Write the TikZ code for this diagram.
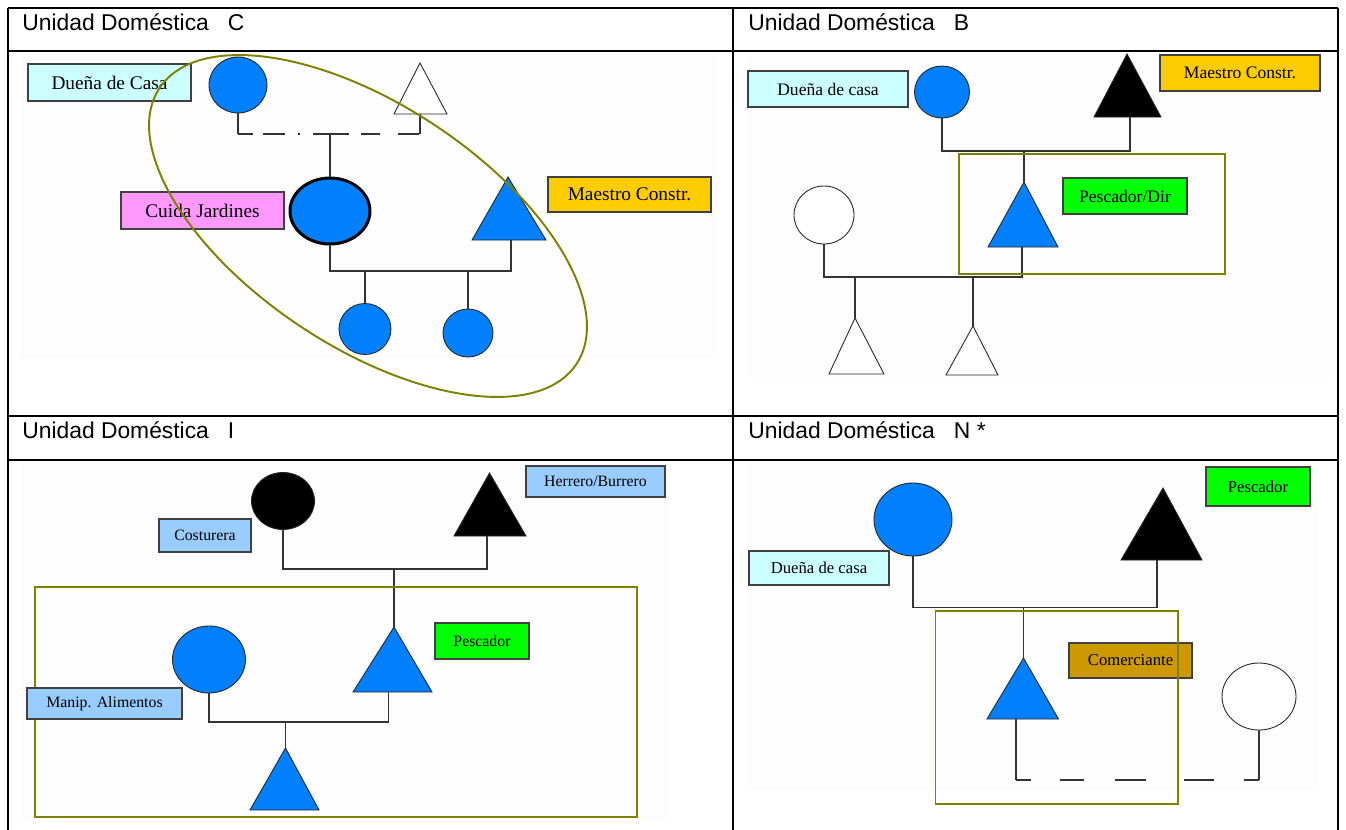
\documentclass[tikz,border=0pt]{standalone}
\usepackage{fontspec}
\setmainfont{Liberation Serif}
\newfontfamily\hdrfont{Liberation Sans}
\usetikzlibrary{shapes.geometric}

\newcommand{\px}{0.02cm}

\definecolor{casacyan}{RGB}{204,255,255}
\definecolor{jardinpink}{RGB}{255,153,255}
\definecolor{constrgold}{RGB}{255,204,0}
\definecolor{pescagreen}{RGB}{0,255,0}
\definecolor{oficioblue}{RGB}{153,204,255}
\definecolor{comerbrown}{RGB}{204,153,0}
\definecolor{persblue}{RGB}{0,128,255}
\definecolor{grupolive}{RGB}{128,128,0}

\tikzset{
    kin/.style={black!80, line width=0.6pt},
    grupo/.style={draw=grupolive, line width=1.1pt},
    lbl/.style={draw=black!75, line width=0.7pt, inner sep=0pt, font=\fontsize{#1}{#1}\selectfont},
    sz/.style 2 args={minimum width=#1*\px, minimum height=#2*\px},
    pers/.style={ellipse, draw=black!85, line width=0.5pt, inner sep=0pt},
    tri/.style={draw=black!85, line width=0.5pt},
    tabla/.style={line width=1.2pt},
    hdr/.style={anchor=base west, inner sep=0pt, font=\hdrfont\fontsize{13}{15}\selectfont},
}

\begin{document}
\begin{tikzpicture}[x=0.02cm, y=-0.02cm]
        \useasboundingbox (0,0) rectangle (1346,829);

        % Fondos
        \fill[black!0.8] (21,52) rectangle (716,358);
        \fill[black!0.8] (748,53) rectangle (1333,377);
        \fill[black!0.8] (21,463) rectangle (668,820);
        \fill[black!0.8] (748,463) rectangle (1318,790);

        % Tabla
        \draw[tabla] (8,8) -- (1338,8);
        \draw[tabla] (8,51) -- (1338,51);
        \draw[tabla] (8,416) -- (1338,416);
        \draw[tabla] (8,460) -- (1338,460);
        \draw[tabla] (8,8) -- (8,835);
        \draw[tabla] (733,8) -- (733,835);
        \draw[tabla] (1338,8) -- (1338,835);

        \node[hdr] (hC) at (22,30) {Unidad Doméstica\ \ \ C};
        \node[hdr] (hB) at (748,30) {Unidad Doméstica\ \ \ B};
        \node[hdr] (hI) at (22,438) {Unidad Doméstica\ \ \ I};
        \node[hdr] (hN) at (748,438) {Unidad Doméstica\ \ \ N *};

        % ---------------- Unidad C ----------------
        \node[lbl=11, sz={163}{37}, fill=casacyan] (cL1) at (109.5,82.5) {Dueña de Casa};
        \node[lbl=11, sz={163}{37}, fill=jardinpink] (cL2) at (202.5,210.5) {Cuida Jardines};
        \node[lbl=11, sz={163}{35}, fill=constrgold] (cL3) at (629.5,194.5) {Maestro Constr.};

        \node[pers, sz={58}{56}, fill=persblue] (cM) at (238,85) {};
        \draw[tri, fill=white] (420,63) coordinate (cF) -- (447,114) -- (394,114) -- cycle;
        \coordinate (cFb) at (420,114);

        \node[pers, sz={80}{66}, fill=persblue, line width=1.7pt, draw=black] (cJ) at (330,211) {};
        \draw[tri, fill=persblue] (508,177) coordinate (cT) -- (546,240) -- (472,240) -- cycle;
        \coordinate (cTb) at (511,240);

        \node[pers, sz={52}{51}, fill=persblue] (cS1) at (365,329) {};
        \node[pers, sz={50}{48}, fill=persblue] (cS2) at (468,333) {};

        \coordinate (cML) at (238,134);
        \coordinate (cMR) at (420,134);
        \coordinate (cMid) at (330,134);
        \coordinate (cH) at (511,271);
        \coordinate (cK1) at (365,271);
        \coordinate (cK2) at (468,271);

        \draw[kin] (cM.south) -- (cML);
        \draw[kin, dash pattern=on 8.5pt off 5.7pt on 12.5pt off 7.4pt on 1.1pt off 7.4pt on 20.4pt off 6.8pt on 11.3pt off 10.2pt on 11.9pt off 20pt] (cML) -- (cMR);
        \draw[kin] (cMR) -- (cFb);
        \draw[kin] (cMid) -- (cJ.north);
        \draw[kin] (cJ.south) |- (cH) -- (cTb);
        \draw[kin] (cK1) -- (cS1.north);
        \draw[kin] (cK2) -- (cS2.north);

        % grupo
        \draw[grupo, rotate around={-33.5:(368,226)}] (368,226) ellipse [x radius=250, y radius=121];

        % ---------------- Unidad B ----------------
        \node[lbl=10, sz={160}{36}, fill=casacyan] (bL1) at (828,89) {Dueña de casa};
        \node[lbl=10, sz={160}{36}, fill=constrgold] (bL2) at (1240,73) {Maestro Constr.};
        \node[lbl=10, sz={124}{36}, fill=pescagreen] (bL3) at (1125,196) {Pescador/Dir};

        \node[pers, sz={55}{52}, fill=persblue] (bM) at (942,92) {};
        \draw[tri, fill=black] (1127,54) coordinate (bF) -- (1161,117) -- (1094,117) -- cycle;
        \coordinate (bFb) at (1130,117);

        \draw[tri, fill=persblue] (1024,182) coordinate (bS) -- (1058,247) -- (988,247) -- cycle;
        \coordinate (bSb) at (1022,247);
        \node[pers, sz={60}{58}, fill=white] (bW) at (824,215) {};

        \draw[tri, fill=white] (855,318) coordinate (bC1) -- (884,374) -- (829,374) -- cycle;
        \draw[tri, fill=white] (973,326) coordinate (bC2) -- (998,375) -- (946,375) -- cycle;

        \coordinate (bH1) at (1130,151);
        \coordinate (bMid) at (1024,151);
        \coordinate (bH2) at (1022,277);
        \coordinate (bK1) at (855,277);
        \coordinate (bK2) at (973,277);

        \draw[kin] (bM.south) |- (bH1) -- (bFb);
        \draw[kin] (bMid) -- (bS);
        \draw[kin] (bW.south) |- (bH2) -- (bSb);
        \draw[kin] (bK1) -- (bC1);
        \draw[kin] (bK2) -- (bC2);

        % grupo
        \draw[grupo] (959,154) rectangle (1225,274);

        % ---------------- Unidad I ----------------
        \node[lbl=9, sz={139}{31}, fill=oficioblue] (iL1) at (595.5,481.5) {Herrero/Burrero};
        \node[lbl=9, sz={92}{33}, fill=oficioblue] (iL2) at (205,535.5) {Costurera};
        \node[lbl=9, sz={94}{36}, fill=pescagreen] (iL3) at (482,641) {Pescador};

        \node[pers, sz={63}{57}, fill=black] (iM) at (283,501) {};
        \draw[tri, fill=black] (489.5,473) coordinate (iF) -- (526,536) -- (454,536) -- cycle;
        \coordinate (iFb) at (487,536);

        \node[pers, sz={73}{67}, fill=persblue] (iW) at (209,659.5) {};
        \draw[tri, fill=persblue] (394,627) coordinate (iS) -- (432,692) -- (353,692) -- cycle;
        \coordinate (iSb) at (388.5,692);
        \draw[tri, fill=persblue] (285.5,748) coordinate (iC) -- (319,810) -- (250,810) -- cycle;

        \coordinate (iH1) at (487,569);
        \coordinate (iMid) at (394,569);
        \coordinate (iH2) at (388.5,722);
        \coordinate (iK) at (285.5,722);

        \draw[kin] (iM.south) |- (iH1) -- (iFb);
        \draw[kin] (iMid) -- (iS);
        \draw[kin] (iW.south) |- (iH2) -- (iSb);
        \draw[kin] (iK) -- (iC);

        % grupo
        \draw[grupo] (35,587) rectangle (637,817);
        \node[lbl=9, sz={155}{31}, fill=oficioblue] (iL4) at (104.5,703.5) {Manip. Alimentos};

        % ---------------- Unidad N ----------------
        \node[lbl=9.5, sz={104}{39}, fill=pescagreen] (nL1) at (1258,486.5) {Pescador};
        \node[lbl=9.5, sz={140}{34}, fill=casacyan] (nL2) at (819,568) {Dueña de casa};
        \node[lbl=9.5, sz={123}{35}, fill=comerbrown] (nL3) at (1130.5,660.5) {Comerciante};

        \node[pers, sz={78}{73}, fill=persblue] (nM) at (913,519.5) {};
        \draw[tri, fill=black] (1163,488) coordinate (nF) -- (1202,560) -- (1121,560) -- cycle;
        \coordinate (nFb) at (1157,560);

        \draw[tri, fill=persblue] (1023.5,658) coordinate (nS) -- (1058.5,719) -- (987,719) -- cycle;
        \coordinate (nSb) at (1016,719);
        \node[pers, sz={74}{67}, fill=white] (nW) at (1259,696.5) {};

        \coordinate (nH1) at (1157,607.5);
        \coordinate (nMid) at (1023.5,607.5);
        \coordinate (nBL) at (1016,780);
        \coordinate (nBR) at (1259,780);

        \draw[kin] (nM.south) |- (nH1) -- (nFb);
        \draw[kin] (nMid) -- (nS);
        \draw[kin] (nSb) -- (nBL);
        \draw[kin, dash pattern=on 8.5pt off 16.4pt on 13.6pt off 18.1pt on 17.6pt off 21.5pt on 17pt off 17pt on 8.5pt off 20pt] (nBL) -- (nBR);
        \draw[kin] (nBR) -- (nW.south);

        % grupo
        \draw[grupo] (935.5,611) rectangle (1178,804);
\end{tikzpicture}
\end{document}
